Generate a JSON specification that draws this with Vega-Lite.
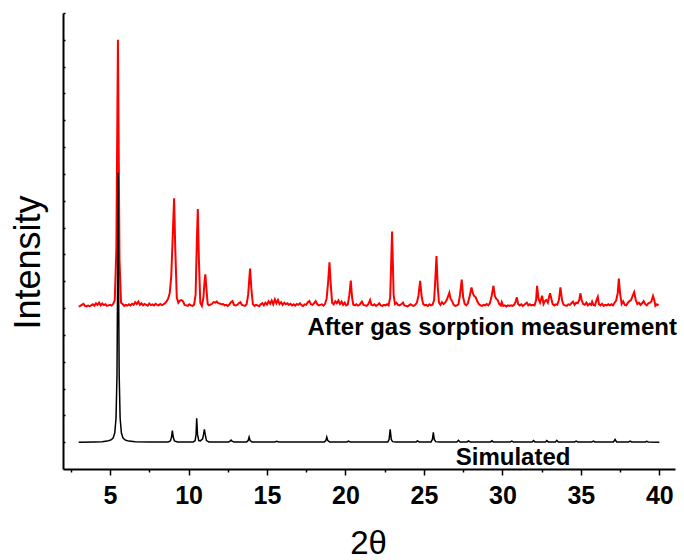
{
  "$schema": "https://vega.github.io/schema/vega-lite/v6.json",
  "width": 612,
  "height": 456,
  "autosize": {"type": "none"},
  "padding": {"left": 63, "top": 13, "right": 9, "bottom": 91},
  "config": {"view": {"stroke": null}, "font": "Liberation Sans"},
  "datasets": {
    "after": [
      {"t":3.0,"i":6.05},{"t":3.1,"i":6.08},{"t":3.2,"i":6.12},{"t":3.3,"i":6.16},{"t":3.4,"i":6.08},{"t":3.5,"i":6.06},{"t":3.6,"i":6.09},{"t":3.7,"i":6.07},{"t":3.8,"i":6.1},{"t":3.9,"i":6.14},
      {"t":4.0,"i":6.09},{"t":4.1,"i":6.18},{"t":4.2,"i":6.12},{"t":4.3,"i":6.2},{"t":4.4,"i":6.1},{"t":4.5,"i":6.17},{"t":4.6,"i":6.11},{"t":4.7,"i":6.14},{"t":4.8,"i":6.08},{"t":4.9,"i":6.1},
      {"t":5.0,"i":6.12},{"t":5.1,"i":6.09},{"t":5.2,"i":6.15},{"t":5.3,"i":6.3},{"t":5.4,"i":8.2},{"t":5.5,"i":16.0},{"t":5.6,"i":7.8},{"t":5.7,"i":6.2},{"t":5.8,"i":6.15},{"t":5.9,"i":6.08},
      {"t":6.0,"i":6.12},{"t":6.1,"i":6.09},{"t":6.2,"i":6.14},{"t":6.3,"i":6.1},{"t":6.4,"i":6.16},{"t":6.5,"i":6.12},{"t":6.6,"i":6.22},{"t":6.7,"i":6.15},{"t":6.8,"i":6.24},{"t":6.9,"i":6.12},
      {"t":7.0,"i":6.18},{"t":7.1,"i":6.1},{"t":7.2,"i":6.15},{"t":7.3,"i":6.12},{"t":7.4,"i":6.09},{"t":7.5,"i":6.17},{"t":7.6,"i":6.11},{"t":7.7,"i":6.14},{"t":7.8,"i":6.1},{"t":7.9,"i":6.16},
      {"t":8.0,"i":6.12},{"t":8.1,"i":6.1},{"t":8.2,"i":6.15},{"t":8.3,"i":6.11},{"t":8.4,"i":6.14},{"t":8.5,"i":6.18},{"t":8.6,"i":6.25},{"t":8.7,"i":6.35},{"t":8.8,"i":6.55},{"t":8.9,"i":7.2},
      {"t":9.0,"i":8.8},{"t":9.08,"i":10.09},{"t":9.15,"i":8.3},{"t":9.25,"i":6.4},{"t":9.35,"i":6.2},{"t":9.45,"i":6.28},{"t":9.55,"i":6.3},{"t":9.65,"i":6.25},{"t":9.75,"i":6.12},{"t":9.85,"i":6.1},
      {"t":9.95,"i":6.08},{"t":10.05,"i":6.14},{"t":10.15,"i":6.1},{"t":10.25,"i":6.08},{"t":10.35,"i":6.12},{"t":10.45,"i":6.5},{"t":10.53,"i":8.5},{"t":10.59,"i":9.69},{"t":10.66,"i":7.8},{"t":10.75,"i":6.2},
      {"t":10.85,"i":6.08},{"t":10.95,"i":6.4},{"t":11.02,"i":7.0},{"t":11.07,"i":7.26},{"t":11.13,"i":6.8},{"t":11.22,"i":6.15},{"t":11.3,"i":6.1},{"t":11.4,"i":6.13},{"t":11.5,"i":6.16},{"t":11.6,"i":6.22},
      {"t":11.7,"i":6.2},{"t":11.8,"i":6.24},{"t":11.9,"i":6.18},{"t":12.0,"i":6.17},{"t":12.1,"i":6.14},{"t":12.2,"i":6.15},{"t":12.3,"i":6.1},{"t":12.4,"i":6.12},{"t":12.5,"i":6.08},{"t":12.6,"i":6.13},
      {"t":12.7,"i":6.22},{"t":12.8,"i":6.26},{"t":12.9,"i":6.12},{"t":13.0,"i":6.1},{"t":13.1,"i":6.12},{"t":13.2,"i":6.18},{"t":13.3,"i":6.22},{"t":13.4,"i":6.12},{"t":13.5,"i":6.1},{"t":13.6,"i":6.08},
      {"t":13.7,"i":6.14},{"t":13.8,"i":6.5},{"t":13.92,"i":7.47},{"t":14.02,"i":6.6},{"t":14.1,"i":6.15},{"t":14.2,"i":6.08},{"t":14.3,"i":6.12},{"t":14.4,"i":6.1},{"t":14.5,"i":6.07},{"t":14.6,"i":6.14},
      {"t":14.7,"i":6.18},{"t":14.8,"i":6.1},{"t":14.9,"i":6.2},{"t":15.0,"i":6.13},{"t":15.1,"i":6.25},{"t":15.2,"i":6.16},{"t":15.3,"i":6.28},{"t":15.4,"i":6.14},{"t":15.5,"i":6.32},{"t":15.6,"i":6.18},
      {"t":15.7,"i":6.3},{"t":15.8,"i":6.15},{"t":15.9,"i":6.22},{"t":16.0,"i":6.12},{"t":16.1,"i":6.2},{"t":16.2,"i":6.14},{"t":16.3,"i":6.18},{"t":16.4,"i":6.12},{"t":16.5,"i":6.16},{"t":16.6,"i":6.1},
      {"t":16.7,"i":6.14},{"t":16.8,"i":6.09},{"t":16.9,"i":6.15},{"t":17.0,"i":6.12},{"t":17.1,"i":6.18},{"t":17.2,"i":6.11},{"t":17.3,"i":6.08},{"t":17.4,"i":6.14},{"t":17.5,"i":6.12},{"t":17.6,"i":6.22},
      {"t":17.7,"i":6.26},{"t":17.8,"i":6.14},{"t":17.9,"i":6.12},{"t":18.0,"i":6.18},{"t":18.1,"i":6.26},{"t":18.2,"i":6.15},{"t":18.3,"i":6.1},{"t":18.4,"i":6.12},{"t":18.5,"i":6.14},{"t":18.6,"i":6.09},
      {"t":18.7,"i":6.16},{"t":18.8,"i":6.35},{"t":18.9,"i":7.0},{"t":18.98,"i":7.71},{"t":19.06,"i":6.9},{"t":19.15,"i":6.2},{"t":19.25,"i":6.14},{"t":19.35,"i":6.25},{"t":19.45,"i":6.18},{"t":19.55,"i":6.28},
      {"t":19.65,"i":6.15},{"t":19.75,"i":6.24},{"t":19.85,"i":6.12},{"t":19.95,"i":6.2},{"t":20.05,"i":6.1},{"t":20.15,"i":6.14},{"t":20.25,"i":6.5},{"t":20.34,"i":7.02},{"t":20.42,"i":6.4},{"t":20.5,"i":6.12},
      {"t":20.6,"i":6.1},{"t":20.7,"i":6.14},{"t":20.8,"i":6.09},{"t":20.9,"i":6.12},{"t":21.0,"i":6.2},{"t":21.05,"i":6.24},{"t":21.15,"i":6.12},{"t":21.25,"i":6.1},{"t":21.35,"i":6.08},{"t":21.45,"i":6.14},
      {"t":21.57,"i":6.3},{"t":21.65,"i":6.12},{"t":21.75,"i":6.1},{"t":21.85,"i":6.14},{"t":21.95,"i":6.08},{"t":22.05,"i":6.12},{"t":22.15,"i":6.18},{"t":22.25,"i":6.1},{"t":22.35,"i":6.08},{"t":22.45,"i":6.12},
      {"t":22.55,"i":6.1},{"t":22.65,"i":6.14},{"t":22.75,"i":6.1},{"t":22.85,"i":6.4},{"t":22.97,"i":8.85},{"t":23.07,"i":6.5},{"t":23.15,"i":6.15},{"t":23.25,"i":6.2},{"t":23.35,"i":6.12},{"t":23.45,"i":6.1},
      {"t":23.55,"i":6.14},{"t":23.67,"i":6.2},{"t":23.75,"i":6.1},{"t":23.85,"i":6.08},{"t":23.95,"i":6.06},{"t":24.05,"i":6.1},{"t":24.15,"i":6.14},{"t":24.25,"i":6.1},{"t":24.35,"i":6.08},{"t":24.45,"i":6.12},
      {"t":24.55,"i":6.2},{"t":24.65,"i":6.45},{"t":24.76,"i":7.01},{"t":24.86,"i":6.4},{"t":24.95,"i":6.15},{"t":25.05,"i":6.1},{"t":25.15,"i":6.12},{"t":25.25,"i":6.08},{"t":25.35,"i":6.14},{"t":25.45,"i":6.1},
      {"t":25.55,"i":6.12},{"t":25.65,"i":6.3},{"t":25.72,"i":7.0},{"t":25.8,"i":7.94},{"t":25.88,"i":6.8},{"t":25.96,"i":6.2},{"t":26.05,"i":6.12},{"t":26.15,"i":6.22},{"t":26.25,"i":6.15},{"t":26.35,"i":6.2},
      {"t":26.45,"i":6.3},{"t":26.55,"i":6.45},{"t":26.62,"i":6.57},{"t":26.7,"i":6.35},{"t":26.8,"i":6.25},{"t":26.9,"i":6.12},{"t":27.0,"i":6.08},{"t":27.1,"i":6.1},{"t":27.2,"i":6.14},{"t":27.3,"i":6.5},
      {"t":27.41,"i":7.06},{"t":27.5,"i":6.4},{"t":27.6,"i":6.15},{"t":27.7,"i":6.1},{"t":27.8,"i":6.18},{"t":27.9,"i":6.4},{"t":28.03,"i":6.77},{"t":28.12,"i":6.55},{"t":28.2,"i":6.45},{"t":28.3,"i":6.4},
      {"t":28.4,"i":6.25},{"t":28.5,"i":6.15},{"t":28.6,"i":6.1},{"t":28.7,"i":6.08},{"t":28.8,"i":6.12},{"t":28.9,"i":6.1},{"t":29.0,"i":6.15},{"t":29.1,"i":6.1},{"t":29.2,"i":6.18},{"t":29.3,"i":6.4},
      {"t":29.43,"i":6.83},{"t":29.52,"i":6.45},{"t":29.6,"i":6.35},{"t":29.7,"i":6.3},{"t":29.8,"i":6.15},{"t":29.9,"i":6.1},{"t":29.96,"i":6.22},{"t":30.05,"i":6.08},{"t":30.15,"i":6.1},{"t":30.25,"i":6.06},
      {"t":30.35,"i":6.1},{"t":30.45,"i":6.08},{"t":30.55,"i":6.1},{"t":30.65,"i":6.08},{"t":30.75,"i":6.12},{"t":30.85,"i":6.25},{"t":30.92,"i":6.4},{"t":31.0,"i":6.15},{"t":31.1,"i":6.1},{"t":31.2,"i":6.14},
      {"t":31.3,"i":6.08},{"t":31.4,"i":6.12},{"t":31.5,"i":6.18},{"t":31.56,"i":6.2},{"t":31.65,"i":6.1},{"t":31.75,"i":6.14},{"t":31.85,"i":6.1},{"t":31.95,"i":6.12},{"t":32.05,"i":6.1},{"t":32.15,"i":6.3},
      {"t":32.21,"i":6.83},{"t":32.3,"i":6.35},{"t":32.4,"i":6.2},{"t":32.53,"i":6.46},{"t":32.62,"i":6.15},{"t":32.7,"i":6.25},{"t":32.8,"i":6.3},{"t":32.9,"i":6.2},{"t":32.97,"i":6.4},{"t":33.04,"i":6.55},
      {"t":33.12,"i":6.35},{"t":33.2,"i":6.15},{"t":33.3,"i":6.1},{"t":33.4,"i":6.14},{"t":33.5,"i":6.12},{"t":33.6,"i":6.3},{"t":33.7,"i":6.77},{"t":33.8,"i":6.3},{"t":33.9,"i":6.12},{"t":34.0,"i":6.1},
      {"t":34.1,"i":6.08},{"t":34.2,"i":6.14},{"t":34.3,"i":6.12},{"t":34.4,"i":6.18},{"t":34.5,"i":6.24},{"t":34.6,"i":6.12},{"t":34.7,"i":6.2},{"t":34.8,"i":6.18},{"t":34.9,"i":6.3},{"t":34.97,"i":6.55},
      {"t":35.05,"i":6.3},{"t":35.15,"i":6.15},{"t":35.25,"i":6.12},{"t":35.35,"i":6.2},{"t":35.45,"i":6.1},{"t":35.55,"i":6.16},{"t":35.65,"i":6.12},{"t":35.72,"i":6.24},{"t":35.8,"i":6.12},{"t":35.9,"i":6.1},
      {"t":36.0,"i":6.3},{"t":36.08,"i":6.42},{"t":36.15,"i":6.15},{"t":36.25,"i":6.1},{"t":36.35,"i":6.16},{"t":36.45,"i":6.08},{"t":36.55,"i":6.12},{"t":36.65,"i":6.1},{"t":36.75,"i":6.14},{"t":36.85,"i":6.1},
      {"t":36.95,"i":6.14},{"t":37.05,"i":6.1},{"t":37.15,"i":6.2},{"t":37.25,"i":6.28},{"t":37.35,"i":6.55},{"t":37.42,"i":7.1},{"t":37.5,"i":6.55},{"t":37.6,"i":6.15},{"t":37.7,"i":6.25},{"t":37.8,"i":6.12},
      {"t":37.9,"i":6.1},{"t":38.0,"i":6.2},{"t":38.1,"i":6.26},{"t":38.2,"i":6.3},{"t":38.3,"i":6.45},{"t":38.4,"i":6.59},{"t":38.5,"i":6.3},{"t":38.6,"i":6.15},{"t":38.7,"i":6.2},{"t":38.8,"i":6.12},
      {"t":38.9,"i":6.18},{"t":39.0,"i":6.26},{"t":39.1,"i":6.15},{"t":39.2,"i":6.1},{"t":39.3,"i":6.18},{"t":39.4,"i":6.2},{"t":39.5,"i":6.25},{"t":39.6,"i":6.45},{"t":39.68,"i":6.3},{"t":39.75,"i":6.08},
      {"t":39.85,"i":6.14},{"t":39.95,"i":6.1}
    ],
    "sim": [
      {"t":3.0,"i":1.0},{"t":4.0,"i":1.01},{"t":4.5,"i":1.02},{"t":4.8,"i":1.04},{"t":5.0,"i":1.07},{"t":5.1,"i":1.1},{"t":5.2,"i":1.16},{"t":5.3,"i":1.35},{"t":5.38,"i":1.9},{"t":5.44,"i":3.5},
      {"t":5.48,"i":7.0},{"t":5.51,"i":11.04},{"t":5.54,"i":7.0},{"t":5.58,"i":3.5},{"t":5.64,"i":1.9},{"t":5.72,"i":1.35},{"t":5.82,"i":1.16},{"t":5.92,"i":1.1},{"t":6.0,"i":1.07},{"t":6.2,"i":1.04},
      {"t":6.6,"i":1.02},{"t":7.5,"i":1.01},{"t":8.7,"i":1.01},{"t":8.85,"i":1.05},{"t":8.92,"i":1.2},{"t":8.97,"i":1.43},{"t":9.02,"i":1.2},{"t":9.1,"i":1.05},{"t":9.3,"i":1.01},{"t":10.3,"i":1.01},
      {"t":10.42,"i":1.06},{"t":10.48,"i":1.3},{"t":10.52,"i":1.89},{"t":10.57,"i":1.3},{"t":10.65,"i":1.06},{"t":10.75,"i":1.05},{"t":10.9,"i":1.12},{"t":10.96,"i":1.3},{"t":11.01,"i":1.48},{"t":11.06,"i":1.3},
      {"t":11.14,"i":1.06},{"t":11.3,"i":1.01},{"t":12.55,"i":1.01},{"t":12.65,"i":1.04},{"t":12.71,"i":1.08},{"t":12.77,"i":1.04},{"t":12.9,"i":1.01},{"t":13.7,"i":1.01},{"t":13.8,"i":1.06},{"t":13.86,"i":1.19},
      {"t":13.92,"i":1.06},{"t":14.05,"i":1.01},{"t":15.5,"i":1.01},{"t":15.62,"i":1.03},{"t":15.75,"i":1.01},{"t":18.65,"i":1.01},{"t":18.75,"i":1.06},{"t":18.81,"i":1.19},{"t":18.87,"i":1.06},{"t":19.0,"i":1.01},
      {"t":20.1,"i":1.01},{"t":20.19,"i":1.04},{"t":20.3,"i":1.01},{"t":22.7,"i":1.01},{"t":22.78,"i":1.1},{"t":22.85,"i":1.48},{"t":22.92,"i":1.1},{"t":23.0,"i":1.02},{"t":23.2,"i":1.01},{"t":24.5,"i":1.01},
      {"t":24.59,"i":1.05},{"t":24.7,"i":1.01},{"t":25.45,"i":1.01},{"t":25.54,"i":1.1},{"t":25.6,"i":1.37},{"t":25.66,"i":1.1},{"t":25.75,"i":1.02},{"t":26.0,"i":1.01},{"t":27.1,"i":1.01},{"t":27.2,"i":1.07},
      {"t":27.3,"i":1.01},{"t":27.75,"i":1.01},{"t":27.84,"i":1.05},{"t":27.95,"i":1.01},{"t":29.25,"i":1.01},{"t":29.33,"i":1.05},{"t":29.42,"i":1.01},{"t":30.5,"i":1.01},{"t":30.6,"i":1.04},{"t":30.7,"i":1.01},
      {"t":31.9,"i":1.01},{"t":31.98,"i":1.06},{"t":32.08,"i":1.01},{"t":32.75,"i":1.01},{"t":32.83,"i":1.06},{"t":32.92,"i":1.01},{"t":33.38,"i":1.01},{"t":33.47,"i":1.07},{"t":33.56,"i":1.01},{"t":34.6,"i":1.01},
      {"t":34.7,"i":1.04},{"t":34.8,"i":1.01},{"t":35.7,"i":1.01},{"t":35.8,"i":1.04},{"t":35.9,"i":1.01},{"t":37.08,"i":1.01},{"t":37.18,"i":1.1},{"t":37.28,"i":1.01},{"t":38.05,"i":1.01},{"t":38.14,"i":1.04},
      {"t":38.24,"i":1.01},{"t":39.1,"i":1.01},{"t":39.2,"i":1.03},{"t":39.3,"i":1.01},{"t":40.0,"i":1.0}
    ],
    "labels": [
      {"t":29.35,"i":5.26,"label":"After gas sorption measurement"},
      {"t":30.68,"i":0.41,"label":"Simulated"}
    ]
  },
  "encoding": {
    "x": {
      "field": "t", "type": "quantitative",
      "scale": {"domain": [2, 41], "nice": false, "zero": false},
      "axis": {
        "title": "2θ",
        "titleFont": "Liberation Sans", "titleFontSize": 33, "titleFontWeight": "normal", "titleColor": "#000",
        "titleX": 305, "titleY": 74, "titleAlign": "center", "titleBaseline": "middle",
        "values": [2.5,5,7.5,10,12.5,15,17.5,20,22.5,25,27.5,30,32.5,35,37.5,40],
        "labelExpr": "datum.value % 5 === 0 ? datum.label : ''",
        "labelFont": "Liberation Sans", "labelFontSize": 25, "labelFontWeight": "bold", "labelColor": "#000",
        "labelPadding": 8, "labelFlush": false, "labelOverlap": false,
        "tickSize": {"condition": {"test": "datum.value % 5 === 0", "value": 6}, "value": 3},
        "tickColor": "#000", "tickWidth": 1.5,
        "domainColor": "#000", "domainWidth": 2, "grid": false
      }
    },
    "y": {
      "field": "i", "type": "quantitative",
      "scale": {"domain": [0, 17], "nice": false, "zero": false},
      "axis": {
        "title": "Intensity",
        "titleFont": "Liberation Sans", "titleFontSize": 36, "titleFontWeight": "normal", "titleColor": "#000",
        "titleX": -35, "titleY": 249, "titleAlign": "center", "titleBaseline": "middle", "titleAngle": -90,
        "values": [1,2,3,4,5,6,7,8,9,10,11,12,13,14,15,16,17],
        "labels": false, "tickSize": -2, "tickColor": "#000", "tickWidth": 1.5,
        "domainColor": "#000", "domainWidth": 2, "grid": false
      }
    }
  },
  "layer": [
    {
      "data": {"name": "after"},
      "mark": {"type": "line", "color": "#ff0000", "strokeWidth": 2, "clip": true}
    },
    {
      "data": {"name": "sim"},
      "mark": {"type": "line", "color": "#000000", "strokeWidth": 1.5, "clip": true}
    },
    {
      "data": {"name": "labels"},
      "mark": {"type": "text", "font": "Liberation Sans", "fontSize": 24, "fontWeight": "bold", "color": "#000", "align": "center", "baseline": "middle"},
      "encoding": {"text": {"field": "label"}}
    }
  ]
}
